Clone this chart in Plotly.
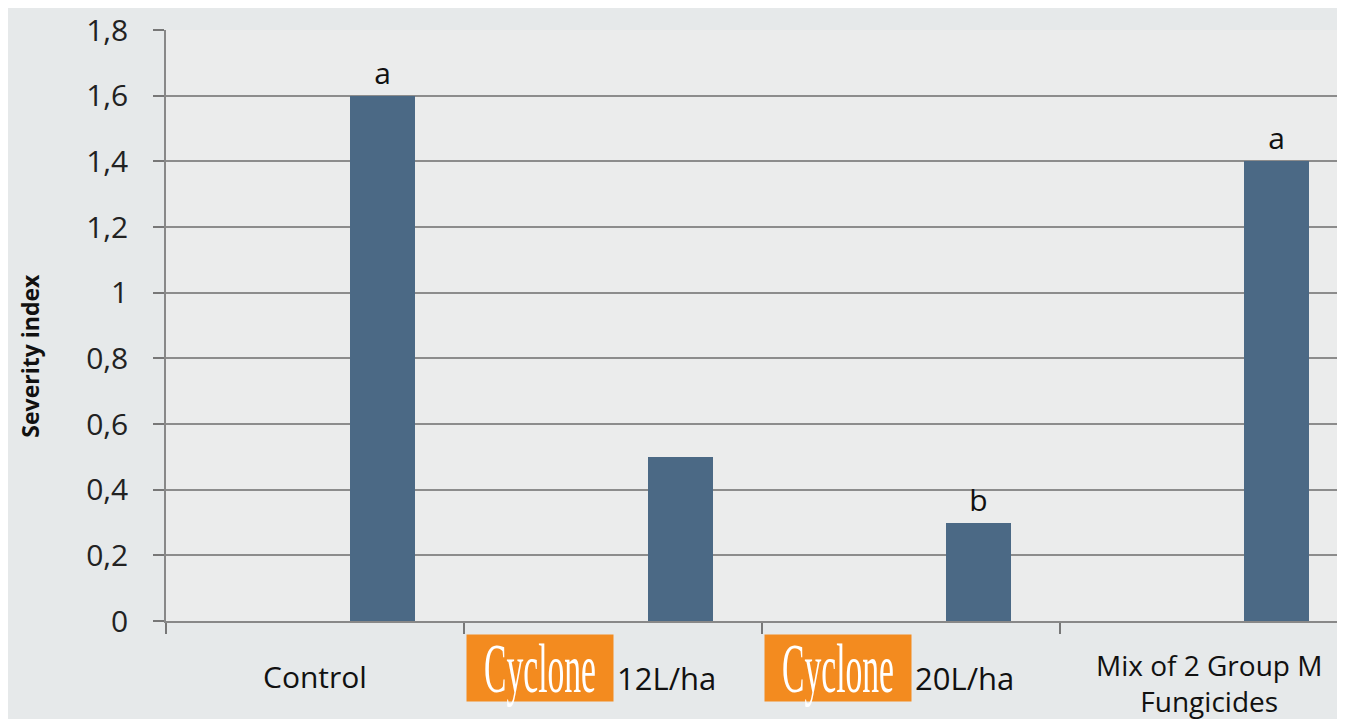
import plotly.graph_objects as go

categories = ["Control", "Cyclone 12L/ha", "Cyclone 20L/ha", "Mix of 2 Group M<br>Fungicides"]
severity = [1.6, 0.5, 0.3, 1.4]
letters = ["a", "", "b", "a"]
y_ticks = [0, 0.2, 0.4, 0.6, 0.8, 1.0, 1.2, 1.4, 1.6, 1.8]
y_tick_labels = ["0", "0,2", "0,4", "0,6", "0,8", "1", "1,2", "1,4", "1,6", "1,8"]

BAR_OFFSET = 0.225
BAR_WIDTH = 0.218
FONT = "Open Sans"
idx = list(range(len(categories)))

fig = go.Figure()
fig.add_trace(go.Bar(
    x=[i + BAR_OFFSET for i in idx], y=severity, width=BAR_WIDTH,
    marker=dict(color="#4b6985", line=dict(width=0)),
    text=letters, textposition="outside", cliponaxis=False,
    textfont=dict(family=FONT, size=30, color="#111"),
    showlegend=False, hoverinfo="skip",
))

annotations = []
for i, cat in enumerate(categories):
    if cat.startswith("Cyclone"):
        brand, rest = cat.split(" ", 1)
        annotations.append(dict(
            x=i - 0.5, xref="x", y=0, yref="paper", xanchor="left", yanchor="middle",
            xshift=2, yshift=-47, text=brand, showarrow=False,
            width=146, height=66, bgcolor="#f38b1f", borderpad=0,
            font=dict(family="Liberation Serif, serif", size=70, color="white"),
        ))
        annotations.append(dict(
            x=i - 0.5, xref="x", y=0, yref="paper", xanchor="left", yanchor="middle",
            xshift=151, yshift=-57, text=rest, showarrow=False,
            font=dict(family=FONT, size=31, color="#111"),
        ))
    else:
        multi = "<br>" in cat
        annotations.append(dict(
            x=i, xref="x", y=0, yref="paper", xanchor="center", yanchor="middle",
            yshift=-62 if multi else -55, text=cat, showarrow=False,
            font=dict(family=FONT, size=28 if multi else 30, color="#111"),
        ))

annotations.append(dict(
    x=0, xref="paper", y=0.449, yref="paper", xshift=-136, text="<b>Severity index</b>",
    textangle=-90, showarrow=False, xanchor="center", yanchor="middle",
    font=dict(family=FONT, size=23, color="#111"),
))

fig.update_layout(
    width=1337, height=711,
    margin=dict(l=158, r=0, t=20, b=98),
    paper_bgcolor="#e6e9ea", plot_bgcolor="#ebecec",
    annotations=annotations,
    separators=", ",
    bargap=0,
    xaxis=dict(
        range=[-0.5, 3.456], tickmode="array", tickvals=[i - 0.5 for i in idx] + [3.5],
        showticklabels=False, ticks="outside", ticklen=11, tickcolor="#777", tickwidth=1.5,
        showgrid=False, zeroline=False, showline=True, linecolor="#888", linewidth=1.5,
    ),
    yaxis=dict(
        range=[0, 1.8], tickmode="array", tickvals=y_ticks, ticktext=y_tick_labels,
        ticks="outside", ticklen=11, tickcolor="#777", tickwidth=1.5,
        ticklabelstandoff=19, ticklabeloverflow="allow",
        tickfont=dict(family=FONT, size=30, color="#222"),
        showgrid=True, gridcolor="#8c8c8c", gridwidth=1.5,
        zeroline=False, showline=True, linecolor="#888", linewidth=1.5,
    ),
)

# Condense the "Cyclone" brand wordmark horizontally (tall, narrow lettering)
post_js = """
(function(){
  function squeeze(){
    document.querySelectorAll('text.annotation-text').forEach(function(t){
      if (t.textContent.trim() === 'Cyclone'){
        var node = t;
        while (node && node.tagName !== 'svg'){
          if (node.removeAttribute) node.removeAttribute('clip-path');
          if (node.classList && node.classList.contains('annotation')) break;
          node = node.parentNode;
        }
        t.style.transformBox = 'fill-box';
        t.style.transformOrigin = 'center';
        t.style.transform = 'scaleX(0.48)';
      }
    });
  }
  squeeze();
  var gd = document.getElementById('{plot_id}');
  if (gd && gd.on) gd.on('plotly_afterplot', squeeze);
})();
"""

fig.write_html("out.html", post_script=post_js)
